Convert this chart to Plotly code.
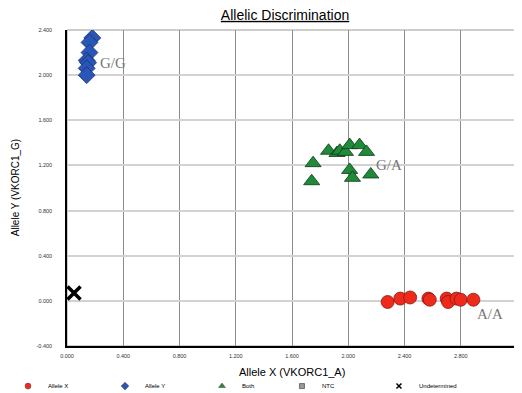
import plotly.graph_objects as go

# Allele X (red circles, A/A)
ax_x = [2.28, 2.37, 2.44, 2.57, 2.58, 2.70, 2.71, 2.77, 2.80, 2.89]
ax_y = [-0.01, 0.02, 0.03, 0.02, 0.01, 0.02, -0.01, 0.02, 0.01, 0.01]
# Allele Y (blue diamonds, G/G)
ay_x = [0.18, 0.16, 0.16, 0.14, 0.15, 0.14, 0.14]
ay_y = [2.33, 2.29, 2.20, 2.13, 2.11, 2.06, 2.00]
# Both (green triangles, G/A)
b_x = [1.86, 1.92, 1.94, 1.98, 2.01, 2.08, 2.13, 1.75, 1.74, 2.01, 2.03, 2.16]
b_y = [1.33, 1.31, 1.33, 1.32, 1.38, 1.38, 1.32, 1.22, 1.06, 1.16, 1.09, 1.12]
# Undetermined
u_x = [0.05]
u_y = [0.07]

x_ticks = [0.0, 0.4, 0.8, 1.2, 1.6, 2.0, 2.4, 2.8, 3.2]
y_ticks = [-0.4, 0.0, 0.4, 0.8, 1.2, 1.6, 2.0, 2.4]

cluster_labels = ["G/G", "G/A", "A/A"]
cluster_x = [0.22, 2.18, 2.90]
cluster_y = [2.11, 1.20, -0.12]

series = [
    ("Allele X", ax_x, ax_y, dict(symbol="circle", size=13, color="#ee2a1c",
                                  line=dict(color="#8a1a10", width=0.8))),
    ("Allele Y", ay_x, ay_y, dict(symbol="diamond", size=13, color="#2a56b8",
                                  line=dict(color="#1a3070", width=0.8))),
    ("Both", b_x, b_y, dict(symbol="triangle-up", size=14, color="#1e8a3a",
                            line=dict(color="#0d3a18", width=0.8))),
    ("NTC", [], [], dict(symbol="square", size=8, color="#999999",
                         line=dict(color="#333333", width=0.8))),
    ("Undetermined", u_x, u_y, dict(symbol="x-thin", size=13, color="black",
                                    line=dict(color="black", width=3.5))),
]
legend_markers = [
    dict(symbol="circle", size=6, color="#ee2a1c", line=dict(color="#555555", width=0.6)),
    dict(symbol="diamond", size=6, color="#2a56b8", line=dict(color="#555555", width=0.6)),
    dict(symbol="triangle-up", size=6, color="#1e8a3a", line=dict(color="#555555", width=0.6)),
    dict(symbol="square", size=5, color="#999999", line=dict(color="#333333", width=0.6)),
    dict(symbol="x-thin", size=5, color="black", line=dict(color="black", width=1.5)),
]
legend_ids = ["legend", "legend", "legend", "legend2", "legend2"]

fig = go.Figure()
for (name, xs, ys, mk) in series:
    if len(xs):
        fig.add_trace(go.Scatter(x=xs, y=ys, mode="markers", name=name,
                                 marker=mk, showlegend=False, legendgroup=name))
for (name, _, _, _), lm, lid in zip(series, legend_markers, legend_ids):
    fig.add_trace(go.Scatter(x=[None], y=[None], mode="markers", name=name,
                             marker=lm, showlegend=True, legendgroup=name,
                             legend=lid))

for t, xx, yy in zip(cluster_labels, cluster_x, cluster_y):
    fig.add_annotation(x=xx, y=yy, text=t, showarrow=False, xanchor="left",
                       yanchor="middle",
                       font=dict(family="Liberation Serif", size=15, color="#777777"))

# axis titles
fig.add_annotation(x=0.5, y=-0.082, xref="paper", yref="paper", text="Allele X (VKORC1_A)",
                   showarrow=False, xanchor="center", yanchor="middle",
                   font=dict(size=11, color="black"))
fig.add_annotation(x=-0.115, y=0.5, xref="paper", yref="paper", text="Allele Y (VKORC1_G)",
                   showarrow=False, xanchor="center", yanchor="middle", textangle=-90,
                   font=dict(size=10, color="black"))

fig.add_shape(type="rect", xref="paper", yref="paper", x0=0, y0=0, x1=1, y1=1,
              line=dict(color="#9a9a9a", width=1), layer="below")

legend_style = dict(orientation="h", xanchor="left", yanchor="middle",
                    yref="container", xref="container", font=dict(size=6),
                    entrywidth=52, entrywidthmode="pixels",
                    bgcolor="rgba(0,0,0,0)", tracegroupgap=0, y=0.018)

fig.update_layout(
    width=514, height=385,
    margin=dict(l=59, r=5, t=22, b=47, autoexpand=False),
    paper_bgcolor="white", plot_bgcolor="white",
    font=dict(family="Liberation Sans", color="black"),
    title=dict(text="<u>Allelic Discrimination</u>", x=0.539, xanchor="center",
               y=0.982, yanchor="middle", font=dict(size=14, color="black")),
    legend=dict(x=0.0, **legend_style),
    legend2=dict(x=0.533, **legend_style),
    showlegend=True,
)
fig.update_xaxes(range=[0, 3.2], tickvals=x_ticks,
                 ticktext=["%.3f" % v for v in x_ticks],
                 tickfont=dict(size=5.5, color="#333333"), ticks="", ticklen=0,
                 showgrid=True, gridcolor="#8c8c8c", gridwidth=1,
                 showline=True, linecolor="black", linewidth=1.5, zeroline=False,
                 automargin=False, ticklabelstandoff=4)
fig.update_yaxes(range=[-0.4, 2.4], tickvals=y_ticks,
                 ticktext=["%.3f" % v for v in y_ticks],
                 tickfont=dict(size=5.5, color="#333333"), ticks="", ticklen=0,
                 showgrid=True, gridcolor="#d2d2d2", gridwidth=1.5,
                 showline=True, linecolor="black", linewidth=1.5, zeroline=False,
                 automargin=False, ticklabelstandoff=12)

fig.write_html("out.html")
